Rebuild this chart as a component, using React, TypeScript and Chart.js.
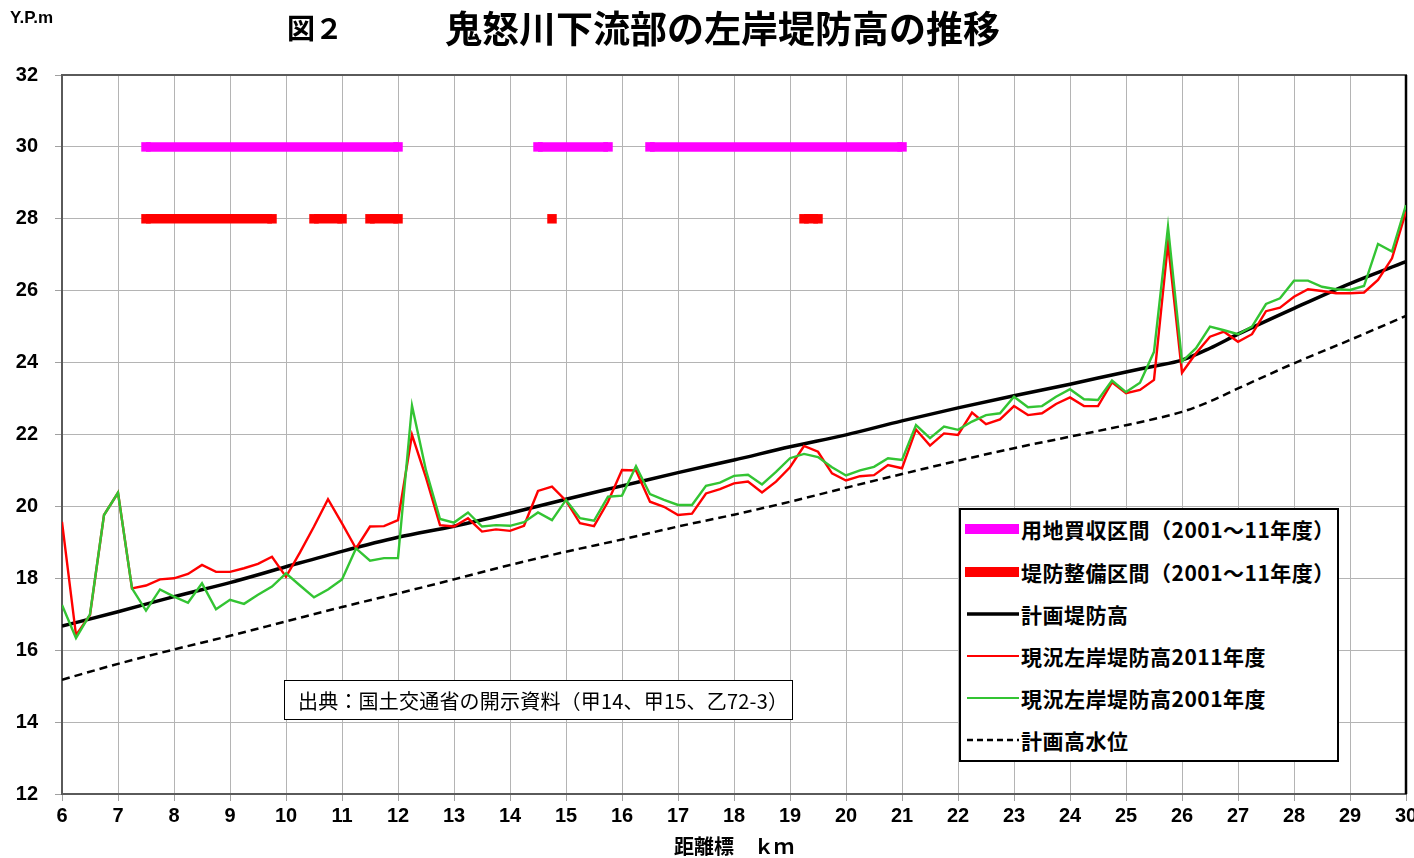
import React, { useEffect, useRef } from "react";
import { Chart, registerables } from "chart.js";

Chart.register(...registerables);

// ---- data ----
const distanceKm = [
  6, 6.25, 6.5, 6.75,
  7, 7.25, 7.5, 7.75,
  8, 8.25, 8.5, 8.75,
  9, 9.25, 9.5, 9.75,
  10, 10.25, 10.5, 10.75,
  11, 11.25, 11.5, 11.75,
  12, 12.25, 12.5, 12.75,
  13, 13.25, 13.5, 13.75,
  14, 14.25, 14.5, 14.75,
  15, 15.25, 15.5, 15.75,
  16, 16.25, 16.5, 16.75,
  17, 17.25, 17.5, 17.75,
  18, 18.25, 18.5, 18.75,
  19, 19.25, 19.5, 19.75,
  20, 20.25, 20.5, 20.75,
  21, 21.25, 21.5, 21.75,
  22, 22.25, 22.5, 22.75,
  23, 23.25, 23.5, 23.75,
  24, 24.25, 24.5, 24.75,
  25, 25.25, 25.5, 25.75,
  26, 26.25, 26.5, 26.75,
  27, 27.25, 27.5, 27.75,
  28, 28.25, 28.5, 28.75,
  29, 29.25, 29.5, 29.75,
  30,
];

const levee2011 = [
  19.57, 16.42, 16.98, 19.76,
  20.38, 17.72, 17.8, 17.97,
  18.0, 18.12, 18.37, 18.18,
  18.18, 18.28, 18.4, 18.6,
  18.04, 18.72, 19.44, 20.2,
  19.53, 18.83, 19.44, 19.45,
  19.62, 21.99, 20.8, 19.48,
  19.44, 19.67, 19.3, 19.36,
  19.32, 19.46, 20.43, 20.55,
  20.16, 19.53, 19.45, 20.13,
  21.01, 21.0, 20.13, 19.99,
  19.76, 19.8, 20.36, 20.48,
  20.64, 20.69, 20.39, 20.69,
  21.09, 21.68, 21.52, 20.92,
  20.72, 20.84, 20.87, 21.15,
  21.06, 22.14, 21.69, 22.03,
  21.99, 22.61, 22.29, 22.42,
  22.79, 22.54, 22.59, 22.85,
  23.03, 22.79, 22.79, 23.45,
  23.15, 23.24, 23.52, 27.32,
  23.72, 24.26, 24.72, 24.86,
  24.58, 24.79, 25.43, 25.53,
  25.83, 26.04, 25.99, 25.93,
  25.93, 25.95, 26.3, 26.9,
  28.2,
];

const levee2001 = [
  17.26, 16.34, 17.0, 19.76,
  20.38, 17.72, 17.1, 17.69,
  17.49, 17.32, 17.86, 17.14,
  17.4, 17.29, 17.54, 17.77,
  18.14, 17.8, 17.47, 17.69,
  17.97, 18.83, 18.49, 18.56,
  18.56, 22.8, 21.0, 19.65,
  19.55, 19.83, 19.44, 19.48,
  19.46, 19.56, 19.83, 19.62,
  20.18, 19.67, 19.6, 20.27,
  20.3, 21.12, 20.34, 20.18,
  20.04, 20.04, 20.57, 20.66,
  20.85, 20.88, 20.61, 20.96,
  21.34, 21.46, 21.37, 21.09,
  20.86, 21.0, 21.1, 21.34,
  21.29, 22.26, 21.9, 22.22,
  22.13, 22.36, 22.54, 22.59,
  23.05, 22.76, 22.79, 23.05,
  23.26, 22.98, 22.96, 23.5,
  23.18, 23.44, 24.3, 27.78,
  24.03, 24.4, 25.0, 24.9,
  24.79, 25.0, 25.63, 25.79,
  26.28, 26.28, 26.11, 26.04,
  26.02, 26.13, 27.3, 27.09,
  28.38,
];

const planKm = [6, 7, 8, 9, 10, 11, 12, 13, 14, 15, 16, 17, 18, 19, 20, 21, 22, 23, 24, 25, 25.5, 26, 26.5, 27, 28, 29, 30];
const planLevee = [16.67, 17.07, 17.49, 17.88, 18.32, 18.75, 19.14, 19.45, 19.81, 20.2, 20.57, 20.94, 21.29, 21.66, 21.99, 22.38, 22.74, 23.08, 23.4, 23.74, 23.9, 24.07, 24.4, 24.79, 25.51, 26.2, 26.81];
const planHwl = [15.18, 15.62, 16.02, 16.4, 16.8, 17.2, 17.58, 17.97, 18.37, 18.74, 19.08, 19.44, 19.77, 20.13, 20.52, 20.9, 21.27, 21.62, 21.94, 22.26, 22.43, 22.63, 22.92, 23.28, 23.98, 24.63, 25.3];

const landPurchaseLevel = 30;
const landPurchaseSegments = [[7.5, 12], [14.5, 15.75], [16.5, 21]];
const leveeWorkLevel = 28;
const leveeWorkSegments = [[7.5, 9.75], [10.5, 11], [11.5, 12], [14.75, 14.75], [19.25, 19.5]];

const xTicks = [6, 7, 8, 9, 10, 11, 12, 13, 14, 15, 16, 17, 18, 19, 20, 21, 22, 23, 24, 25, 26, 27, 28, 29, 30];
const yTicks = [12, 14, 16, 18, 20, 22, 24, 26, 28, 30, 32];

const legendItems = [
  { label: "用地買収区間（2001～11年度）", kind: "bar", color: "#ff00ff" },
  { label: "堤防整備区間（2001～11年度）", kind: "bar", color: "#ff0000" },
  { label: "計画堤防高", kind: "line", color: "#000000", width: 3.5 },
  { label: "現況左岸堤防高2011年度", kind: "line", color: "#ff0000", width: 2 },
  { label: "現況左岸堤防高2001年度", kind: "line", color: "#33c433", width: 2 },
  { label: "計画高水位", kind: "dash", color: "#000000", width: 2.5 },
];

function segmentsToData(segs: number[][], level: number) {
  const out: any[] = [];
  segs.forEach((s, i) => {
    if (i > 0) out.push({ x: (segs[i - 1][1] + s[0]) / 2, y: null });
    out.push({ x: s[0], y: level });
    if (s[1] !== s[0]) out.push({ x: s[1], y: level });
  });
  return out;
}

const zip = (xs: number[], ys: number[]) => xs.map((x, i) => ({ x, y: ys[i] }));

const framePlugin = {
  id: "frame",
  beforeDatasetsDraw(chart: any) {
    const { ctx, chartArea: a } = chart;
    ctx.save();
    ctx.strokeStyle = "#5a5a5a";
    ctx.lineWidth = 2;
    ctx.strokeRect(a.left, a.top, a.right - a.left, a.bottom - a.top);
    ctx.strokeStyle = "#000";
    ctx.lineWidth = 2.5;
    ctx.beginPath();
    ctx.moveTo(a.right, a.top);
    ctx.lineTo(a.right, a.bottom);
    ctx.stroke();
    ctx.restore();
  },
};

const tickFont = { family: "'Liberation Sans', Arial, sans-serif", size: 20, weight: "bold" as const };
const jp = "'Noto Sans CJK JP', 'Noto Sans CJK SC', sans-serif";

export default function App() {
  const ref = useRef<HTMLCanvasElement | null>(null);

  useEffect(() => {
    if (!ref.current) return;
    const barDs = (data: any[], color: string) => ({
      data,
      borderColor: color,
      backgroundColor: color,
      borderWidth: 9.5,
      borderCapStyle: "butt",
      pointStyle: "rect",
      pointRadius: 6.7,
      pointBorderWidth: 0,
      pointBackgroundColor: color,
      pointHoverRadius: 6.7,
      spanGaps: false,
      tension: 0,
    });
    const chart = new Chart(ref.current, {
      type: "line",
      data: {
        datasets: [
          barDs(segmentsToData(landPurchaseSegments, landPurchaseLevel), "#ff00ff") as any,
          barDs(segmentsToData(leveeWorkSegments, leveeWorkLevel), "#ff0000") as any,
          {
            data: zip(distanceKm, levee2001),
            borderColor: "#33c433",
            borderWidth: 2.4,
            pointRadius: 0,
            tension: 0,
          },
          {
            data: zip(distanceKm, levee2011),
            borderColor: "#ff0000",
            borderWidth: 2.4,
            pointRadius: 0,
            tension: 0,
          },
          {
            data: zip(planKm, planLevee),
            borderColor: "#000000",
            borderWidth: 3.5,
            pointRadius: 0,
            cubicInterpolationMode: "monotone",
          },
          {
            data: zip(planKm, planHwl),
            borderColor: "#000000",
            borderWidth: 2.5,
            borderDash: [8, 5],
            pointRadius: 0,
            cubicInterpolationMode: "monotone",
          },
        ],
      },
      options: {
        animation: false,
        responsive: false,
        devicePixelRatio: 1,
        layout: { padding: { left: 0, right: 8, top: 75, bottom: 0 } },
        plugins: {
          legend: { display: false },
          tooltip: { enabled: false },
          title: { display: false },
        },
        scales: {
          x: {
            type: "linear",
            min: 6,
            max: 30,
            afterBuildTicks: (s: any) => {
              s.ticks = xTicks.map((v) => ({ value: v }));
            },
            afterFit: (s: any) => {
              s.height = 64;
              s.paddingLeft = 0;
              s.paddingRight = 0;
            },
            ticks: { font: tickFont, color: "#000", padding: 3, maxRotation: 0, autoSkip: false },
            grid: { color: "#b4b4b4", lineWidth: 1, tickLength: 7, tickColor: "#a0a0a0" },
            border: { display: false },
            title: {
              display: true,
              text: "距離標　ｋｍ",
              font: { family: jp, size: 20, weight: "bold" },
              color: "#000",
              padding: { top: 0, bottom: 0 },
            },
          },
          y: {
            type: "linear",
            min: 12,
            max: 32,
            afterBuildTicks: (s: any) => {
              s.ticks = yTicks.map((v) => ({ value: v }));
            },
            afterFit: (s: any) => {
              s.width = 62;
            },
            ticks: { font: tickFont, color: "#000", padding: 17 },
            grid: { color: "#b4b4b4", lineWidth: 1, tickLength: 7, tickColor: "#a0a0a0" },
            border: { display: false },
          },
        },
      },
      plugins: [framePlugin],
    } as any);
    return () => chart.destroy();
  }, []);

  const rowCenters = [529, 572, 614, 656, 698, 740];

  return (
    <div style={{ position: "absolute", left: 0, top: 0, width: 1414, height: 858, background: "#fff", overflow: "hidden" }}>
      <canvas ref={ref} width={1414} height={858} style={{ display: "block", width: 1414, height: 858 }} />
      <div style={{ position: "absolute", left: 10, top: 8, fontFamily: "'Liberation Sans Narrow', 'Liberation Sans', Arial, sans-serif", fontWeight: "bold", fontSize: 17, color: "#000", lineHeight: "20px" }}>
        Y.P.m
      </div>
      <div style={{ position: "absolute", left: 287, top: 8, fontFamily: jp, fontWeight: "bold", fontSize: 28, lineHeight: "38px", color: "#000", whiteSpace: "nowrap" }}>
        図２
      </div>
      <div style={{ position: "absolute", left: 445, top: 4, fontFamily: jp, fontWeight: "bold", fontSize: 37, lineHeight: "46px", color: "#000", whiteSpace: "nowrap" }}>
        鬼怒川下流部の左岸堤防高の推移
      </div>

      {/* source box */}
      <div style={{ position: "absolute", left: 284, top: 680, width: 507, height: 38, border: "1.5px solid #000", background: "#fff" }} />
      <div style={{ position: "absolute", left: 298, top: 680, height: 41, lineHeight: "41px", fontFamily: jp, fontSize: 20, letterSpacing: "0.2px", color: "#000", whiteSpace: "nowrap" }}>
        出典：国土交通省の開示資料（甲14、甲15、乙72-3）
      </div>

      {/* legend */}
      <div style={{ position: "absolute", left: 959, top: 508, width: 376, height: 250, border: "2px solid #000", background: "#fff" }} />
      {legendItems.map((it, i) => {
        const cy = rowCenters[i];
        let sample: any;
        if (it.kind === "bar") {
          sample = <div style={{ position: "absolute", left: 965, top: cy - 5, width: 54, height: 10, background: it.color }} />;
        } else {
          sample = (
            <svg style={{ position: "absolute", left: 965, top: cy - 5 }} width={56} height={10}>
              <line x1={2} y1={5} x2={54} y2={5} stroke={it.color} strokeWidth={it.width} strokeDasharray={it.kind === "dash" ? "6,4" : undefined} />
            </svg>
          );
        }
        return (
          <React.Fragment key={i}>
            {sample}
            <div style={{ position: "absolute", left: 1021, top: cy - 16, height: 32, lineHeight: "32px", fontFamily: jp, fontWeight: "bold", fontSize: 21, letterSpacing: "0.5px", color: "#000", whiteSpace: "nowrap" }}>
              {it.label}
            </div>
          </React.Fragment>
        );
      })}
    </div>
  );
}
